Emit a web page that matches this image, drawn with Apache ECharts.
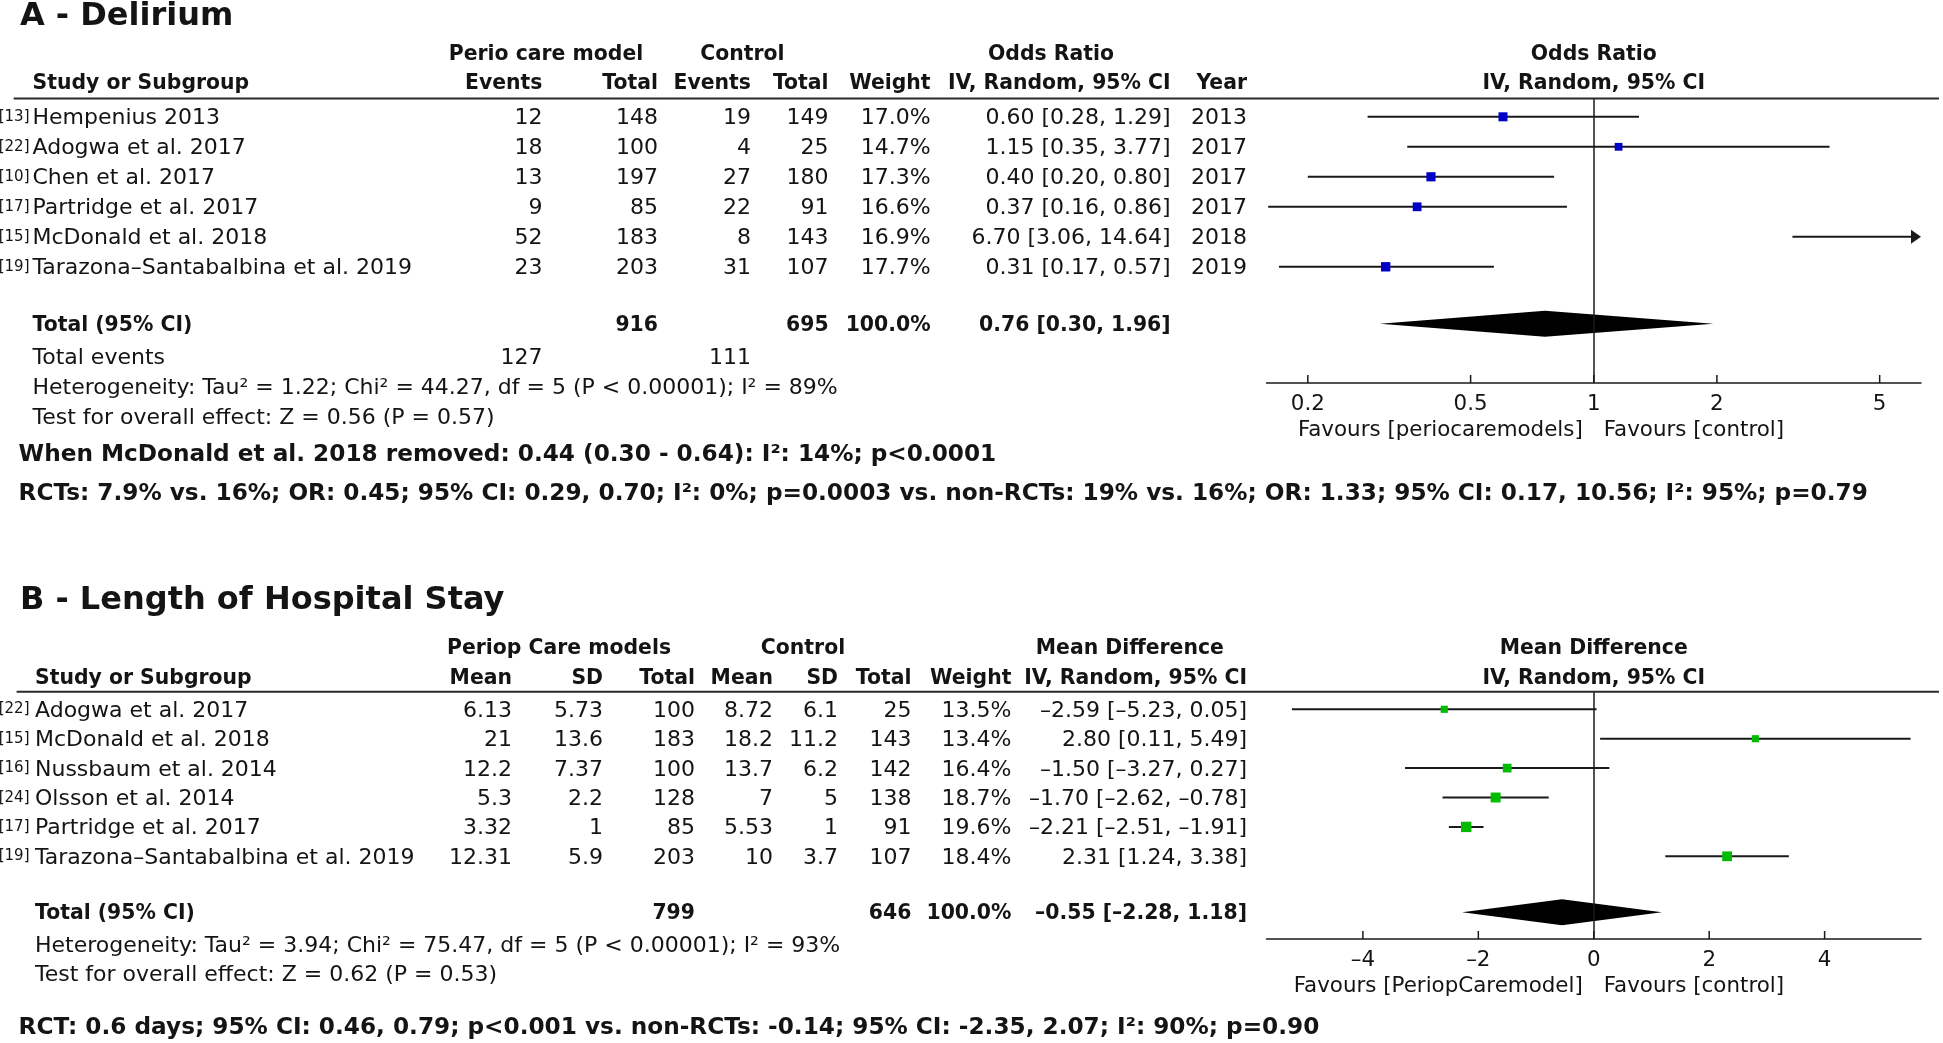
<!DOCTYPE html>
<html>
<head>
<meta charset="utf-8">
<script src="https://cdn.jsdelivr.net/npm/echarts@6/dist/echarts.min.js"></script>
<style>
html,body{margin:0;padding:0;background:#fff;overflow:hidden}
#chart{width:1943px;height:1043px}
</style>
</head>
<body>
<div id="chart"></div>
<script>
// ================= DATA : Panel A (Delirium, odds ratios) =================
const titleA = 'A - Delirium';
const refsA = ['[13]', '[22]', '[10]', '[17]', '[15]', '[19]'];
const studiesA = ['Hempenius 2013', 'Adogwa et al. 2017', 'Chen et al. 2017', 'Partridge et al. 2017', 'McDonald et al. 2018', 'Tarazona–Santabalbina et al. 2019'];
const expEventsA = [12, 18, 13, 9, 52, 23];
const expTotalA = [148, 100, 197, 85, 183, 203];
const ctlEventsA = [19, 4, 27, 22, 8, 31];
const ctlTotalA = [149, 25, 180, 91, 143, 107];
const weightA = [17.0, 14.7, 17.3, 16.6, 16.9, 17.7];
const orA = [0.60, 1.15, 0.40, 0.37, 6.70, 0.31];
const orLowA = [0.28, 0.35, 0.20, 0.16, 3.06, 0.17];
const orHighA = [1.29, 3.77, 0.80, 0.86, 14.64, 0.57];
const yearA = [2013, 2017, 2017, 2017, 2018, 2019];
const totalOrA = [0.76, 0.30, 1.96];          // estimate, low, high
const totalCountsA = [916, 695];              // exp total, ctl total
const totalEventsA = [127, 111];              // exp events, ctl events
const totalWeightA = 100.0;
const hetA = 'Heterogeneity: Tau² = 1.22; Chi² = 44.27, df = 5 (P < 0.00001); I² = 89%';
const testA = 'Test for overall effect: Z = 0.56 (P = 0.57)';
const ticksA = [0.2, 0.5, 1, 2, 5];
const favoursA = ['Favours [periocaremodels]', 'Favours [control]'];
const notesA = [
  'When McDonald et al. 2018 removed: 0.44 (0.30 - 0.64): I²: 14%; p<0.0001',
  'RCTs: 7.9% vs. 16%; OR: 0.45; 95% CI: 0.29, 0.70; I²: 0%; p=0.0003 vs. non-RCTs: 19% vs. 16%; OR: 1.33; 95% CI: 0.17, 10.56; I²: 95%; p=0.79'
];

// ================= DATA : Panel B (Length of stay, mean differences) =================
const titleB = 'B - Length of Hospital Stay';
const refsB = ['[22]', '[15]', '[16]', '[24]', '[17]', '[19]'];
const studiesB = ['Adogwa et al. 2017', 'McDonald et al. 2018', 'Nussbaum et al. 2014', 'Olsson et al. 2014', 'Partridge et al. 2017', 'Tarazona–Santabalbina et al. 2019'];
const expMeanB = ['6.13', '21', '12.2', '5.3', '3.32', '12.31'];
const expSdB = ['5.73', '13.6', '7.37', '2.2', '1', '5.9'];
const expTotalB = [100, 183, 100, 128, 85, 203];
const ctlMeanB = ['8.72', '18.2', '13.7', '7', '5.53', '10'];
const ctlSdB = ['6.1', '11.2', '6.2', '5', '1', '3.7'];
const ctlTotalB = [25, 143, 142, 138, 91, 107];
const weightB = [13.5, 13.4, 16.4, 18.7, 19.6, 18.4];
const mdB = [-2.59, 2.80, -1.50, -1.70, -2.21, 2.31];
const mdLowB = [-5.23, 0.11, -3.27, -2.62, -2.51, 1.24];
const mdHighB = [0.05, 5.49, 0.27, -0.78, -1.91, 3.38];
const totalMdB = [-0.55, -2.28, 1.18];
const totalCountsB = [799, 646];
const totalWeightB = 100.0;
const hetB = 'Heterogeneity: Tau² = 3.94; Chi² = 75.47, df = 5 (P < 0.00001); I² = 93%';
const testB = 'Test for overall effect: Z = 0.62 (P = 0.53)';
const ticksB = [-4, -2, 0, 2, 4];
const favoursB = ['Favours [PeriopCaremodel]', 'Favours [control]'];
const notesB = ['RCT: 0.6 days; 95% CI: 0.46, 0.79; p<0.001 vs. non-RCTs: -0.14; 95% CI: -2.35, 2.07; I²: 90%; p=0.90'];

// ================= STYLE / LAYOUT =================
const INK = '#141414';
const LINE_INK = '#1a1a1a';
const FAM = '"DejaVu Sans", sans-serif';
const fontN = '22px ' + FAM;
const fontAx = '21.4px ' + FAM;
const fontB = 'bold 20.4px ' + FAM;
const fontRef = '15px ' + FAM;
const fontTitle = 'bold 32px ' + FAM;
const fontNote = 'bold 23.2px ' + FAM;
const TEXT_DY = 1.7;
const TOTAL_ROW = 6.9;
const SQ = 0.53;          // square size per weight-percent
const DIAMOND_H = 13;
const TICK_LEN = 8;
const GRID_X = 1266.5, GRID_W = 654.5;
const FOREST_CX = GRID_X + GRID_W / 2;

const LA = { y0: 116.8, step: 30, top: 98.5, bottom: 383, hdr1: 54.5, hdr2: 83.5, titleY: 16.7,
  refX: 29.5, nameX: 32.5, lineX1: 13.7, lineX2: 1939,
  cols: [542.5, 658, 751, 828.6, 930.6, 1170.6, 1247],
  grpCenters: [546, 742.4, 1051], noteY: [455, 494] };
const LB = { y0: 709.3, step: 29.4, top: 691.7, bottom: 939, hdr1: 648.8, hdr2: 678.3, titleY: 600.5,
  refX: 29.5, nameX: 35, lineX1: 16.6, lineX2: 1939,
  cols: [512, 603, 695, 773, 838, 911.4, 1011.4, 1247],
  grpCenters: [559, 803, 1129.8], noteY: [1027.5] };

const OR_MIN = Math.pow(10, -0.8), OR_MAX = Math.pow(10, 0.8);
const MD_MIN = -5.67, MD_MAX = 5.67;

const rowY = (L, i) => L.y0 + L.step * i;
const f2 = v => v.toFixed(2).replace('-', '–');
const fmtCI = (e, l, h) => f2(e) + ' [' + f2(l) + ', ' + f2(h) + ']';

function T(x, y, text, font, align) {
  const a = align || 'left';
  return { type: 'text', x: x, y: y, silent: true, z: 10,
    style: { text: String(text), font: font, fill: INK, align: a, verticalAlign: 'middle',
             textAlign: a, textVerticalAlign: 'middle' } };
}
function HL(x1, x2, y) {
  return { type: 'line', silent: true, z: 10, shape: { x1: x1, y1: y, x2: x2, y2: y },
    style: { stroke: '#2a2a2a', lineWidth: 2 } };
}

const G = [];
// ---------- Panel A table ----------
G.push(T(19.9, LA.titleY, titleA, fontTitle));
G.push(T(LA.grpCenters[0], LA.hdr1, 'Perio care model', fontB, 'center'));
G.push(T(LA.grpCenters[1], LA.hdr1, 'Control', fontB, 'center'));
G.push(T(LA.grpCenters[2], LA.hdr1, 'Odds Ratio', fontB, 'center'));
G.push(T(FOREST_CX, LA.hdr1, 'Odds Ratio', fontB, 'center'));
G.push(T(LA.nameX, LA.hdr2, 'Study or Subgroup', fontB));
['Events', 'Total', 'Events', 'Total', 'Weight', 'IV, Random, 95% CI', 'Year'].forEach((h, k) =>
  G.push(T(LA.cols[k], LA.hdr2, h, fontB, 'right')));
G.push(T(FOREST_CX, LA.hdr2, 'IV, Random, 95% CI', fontB, 'center'));
G.push(HL(LA.lineX1, LA.lineX2, LA.top));
studiesA.forEach((s, i) => {
  const y = rowY(LA, i) + TEXT_DY;
  G.push(T(LA.refX, y - 1.5, refsA[i], fontRef, 'right'));
  G.push(T(LA.nameX, y, s, fontN));
  const vals = [expEventsA[i], expTotalA[i], ctlEventsA[i], ctlTotalA[i], weightA[i].toFixed(1) + '%',
                fmtCI(orA[i], orLowA[i], orHighA[i]), yearA[i]];
  vals.forEach((v, k) => G.push(T(LA.cols[k], y, v, fontN, 'right')));
});
{
  const y = rowY(LA, TOTAL_ROW) + TEXT_DY;
  G.push(T(LA.nameX, y, 'Total (95% CI)', fontB));
  G.push(T(LA.cols[1], y, totalCountsA[0], fontB, 'right'));
  G.push(T(LA.cols[3], y, totalCountsA[1], fontB, 'right'));
  G.push(T(LA.cols[4], y, totalWeightA.toFixed(1) + '%', fontB, 'right'));
  G.push(T(LA.cols[5], y, fmtCI(totalOrA[0], totalOrA[1], totalOrA[2]), fontB, 'right'));
  const y2 = rowY(LA, 8) + TEXT_DY;
  G.push(T(LA.nameX, y2, 'Total events', fontN));
  G.push(T(LA.cols[0], y2, totalEventsA[0], fontN, 'right'));
  G.push(T(LA.cols[2], y2, totalEventsA[1], fontN, 'right'));
  G.push(T(LA.nameX, rowY(LA, 9) + TEXT_DY, hetA, fontN));
  G.push(T(LA.nameX, rowY(LA, 10) + TEXT_DY, testA, fontN));
}
notesA.forEach((n, k) => G.push(T(18.6, LA.noteY[k], n, fontNote)));
G.push(T(FOREST_CX - 11, LA.bottom + 47, favoursA[0], fontAx, 'right'));
G.push(T(FOREST_CX + 10, LA.bottom + 47, favoursA[1], fontAx, 'left'));

// ---------- Panel B table ----------
G.push(T(19.9, LB.titleY, titleB, fontTitle));
G.push(T(LB.grpCenters[0], LB.hdr1, 'Periop Care models', fontB, 'center'));
G.push(T(LB.grpCenters[1], LB.hdr1, 'Control', fontB, 'center'));
G.push(T(LB.grpCenters[2], LB.hdr1, 'Mean Difference', fontB, 'center'));
G.push(T(FOREST_CX, LB.hdr1, 'Mean Difference', fontB, 'center'));
G.push(T(LB.nameX, LB.hdr2, 'Study or Subgroup', fontB));
['Mean', 'SD', 'Total', 'Mean', 'SD', 'Total', 'Weight', 'IV, Random, 95% CI'].forEach((h, k) =>
  G.push(T(LB.cols[k], LB.hdr2, h, fontB, 'right')));
G.push(T(FOREST_CX, LB.hdr2, 'IV, Random, 95% CI', fontB, 'center'));
G.push(HL(LB.lineX1, LB.lineX2, LB.top));
studiesB.forEach((s, i) => {
  const y = rowY(LB, i) + TEXT_DY;
  G.push(T(LB.refX, y - 1.5, refsB[i], fontRef, 'right'));
  G.push(T(LB.nameX, y, s, fontN));
  const vals = [expMeanB[i], expSdB[i], expTotalB[i], ctlMeanB[i], ctlSdB[i], ctlTotalB[i],
                weightB[i].toFixed(1) + '%', fmtCI(mdB[i], mdLowB[i], mdHighB[i])];
  vals.forEach((v, k) => G.push(T(LB.cols[k], y, v, fontN, 'right')));
});
{
  const y = rowY(LB, TOTAL_ROW) + TEXT_DY;
  G.push(T(LB.nameX, y, 'Total (95% CI)', fontB));
  G.push(T(LB.cols[2], y, totalCountsB[0], fontB, 'right'));
  G.push(T(LB.cols[5], y, totalCountsB[1], fontB, 'right'));
  G.push(T(LB.cols[6], y, totalWeightB.toFixed(1) + '%', fontB, 'right'));
  G.push(T(LB.cols[7], y, fmtCI(totalMdB[0], totalMdB[1], totalMdB[2]), fontB, 'right'));
  G.push(T(LB.nameX, rowY(LB, 8) + TEXT_DY, hetB, fontN));
  G.push(T(LB.nameX, rowY(LB, 9) + TEXT_DY, testB, fontN));
}
notesB.forEach((n, k) => G.push(T(18.6, LB.noteY[k], n, fontNote)));
G.push(T(FOREST_CX - 11, LB.bottom + 47, favoursB[0], fontAx, 'right'));
G.push(T(FOREST_CX + 10, LB.bottom + 47, favoursB[1], fontAx, 'left'));

// ================= FOREST SERIES =================
function ciRender(color) {
  return function (params, api) {
    const cs = params.coordSys;
    const xL = cs.x, xR = cs.x + cs.width;
    const row = api.value(3), w = api.value(4);
    const pe = api.coord([api.value(0), row]);
    const pl = api.coord([api.value(1), row]);
    const ph = api.coord([api.value(2), row]);
    const y = pe[1];
    const x1 = Math.max(pl[0], xL), x2 = Math.min(ph[0], xR);
    const clipR = ph[0] > xR + 0.5, clipL = pl[0] < xL - 0.5;
    const ch = [];
    ch.push({ type: 'line', shape: { x1: clipL ? x1 + 6 : x1, y1: y, x2: clipR ? x2 - 6 : x2, y2: y },
      style: { stroke: LINE_INK, lineWidth: 2 } });
    if (clipR) ch.push({ type: 'polygon', shape: { points: [[x2 - 10, y - 7], [x2, y], [x2 - 10, y + 7]] }, style: { fill: LINE_INK } });
    if (clipL) ch.push({ type: 'polygon', shape: { points: [[x1 + 10, y - 7], [x1, y], [x1 + 10, y + 7]] }, style: { fill: LINE_INK } });
    if (pe[0] >= xL && pe[0] <= xR) {
      const s = w * SQ;
      ch.push({ type: 'rect', shape: { x: pe[0] - s / 2, y: y - s / 2, width: s, height: s }, style: { fill: color } });
    }
    return { type: 'group', children: ch };
  };
}
function diamondRender(params, api) {
  const row = api.value(3);
  const e = api.coord([api.value(0), row]);
  const l = api.coord([api.value(1), row]);
  const h = api.coord([api.value(2), row]);
  return { type: 'polygon', shape: { points: [[l[0], l[1]], [e[0], e[1] - DIAMOND_H], [h[0], h[1]], [e[0], e[1] + DIAMOND_H]] },
    style: { fill: '#000' } };
}
function tickRender(fmt) {
  return function (params, api) {
    const cs = params.coordSys;
    const v = api.value(0);
    const x = api.coord([v, 0])[0];
    const yb = cs.y + cs.height;
    return { type: 'group', children: [
      { type: 'line', shape: { x1: x, y1: yb, x2: x, y2: yb - TICK_LEN }, style: { stroke: LINE_INK, lineWidth: 1.5 } },
      { type: 'text', x: x, y: yb + 21.5, style: { text: fmt(v), font: fontAx, fill: INK, align: 'center', verticalAlign: 'middle', textAlign: 'center', textVerticalAlign: 'middle' } }
    ] };
  };
}
const nullLine = (v) => ({ silent: true, symbol: ['none', 'none'], label: { show: false },
  lineStyle: { color: LINE_INK, width: 1.5, type: 'solid' }, data: [{ xAxis: v }], animation: false });

const ciDataA = orA.map((v, i) => [v, orLowA[i], orHighA[i], i, weightA[i]]);
const ciDataB = mdB.map((v, i) => [v, mdLowB[i], mdHighB[i], i, weightB[i]]);

const axisLineStyle = { show: true, onZero: false, lineStyle: { color: LINE_INK, width: 1.5 } };

const option = {
  animation: false,
  backgroundColor: '#ffffff',
  grid: [
    { left: GRID_X, width: GRID_W, top: LA.top, height: LA.bottom - LA.top, containLabel: false, outerBoundsMode: 'none' },
    { left: GRID_X, width: GRID_W, top: LB.top, height: LB.bottom - LB.top, containLabel: false, outerBoundsMode: 'none' }
  ],
  xAxis: [
    { gridIndex: 0, type: 'log', logBase: 10, min: OR_MIN, max: OR_MAX, axisLine: axisLineStyle,
      axisTick: { show: false }, axisLabel: { show: false }, splitLine: { show: false } },
    { gridIndex: 1, type: 'value', min: MD_MIN, max: MD_MAX, axisLine: axisLineStyle,
      axisTick: { show: false }, axisLabel: { show: false }, splitLine: { show: false } }
  ],
  yAxis: [
    { gridIndex: 0, type: 'value', inverse: true, show: false,
      min: (LA.top - LA.y0) / LA.step, max: (LA.bottom - LA.y0) / LA.step },
    { gridIndex: 1, type: 'value', inverse: true, show: false,
      min: (LB.top - LB.y0) / LB.step, max: (LB.bottom - LB.y0) / LB.step }
  ],
  series: [
    { type: 'custom', xAxisIndex: 0, yAxisIndex: 0, renderItem: diamondRender, encode: { x: [0, 1, 2], y: 3 },
      data: [[totalOrA[0], totalOrA[1], totalOrA[2], TOTAL_ROW]], markLine: nullLine(1), z: 2 },
    { type: 'custom', xAxisIndex: 0, yAxisIndex: 0, renderItem: ciRender('#0000c8'), encode: { x: [0, 1, 2], y: 3 },
      data: ciDataA, clip: false, z: 3 },
    { type: 'custom', xAxisIndex: 0, yAxisIndex: 0, renderItem: tickRender(v => String(v)), encode: { x: 0, y: 1 },
      data: ticksA.map(v => [v, 0]), clip: false, z: 3 },
    { type: 'custom', xAxisIndex: 1, yAxisIndex: 1, renderItem: diamondRender, encode: { x: [0, 1, 2], y: 3 },
      data: [[totalMdB[0], totalMdB[1], totalMdB[2], TOTAL_ROW]], markLine: nullLine(0), z: 2 },
    { type: 'custom', xAxisIndex: 1, yAxisIndex: 1, renderItem: ciRender('#00bb00'), encode: { x: [0, 1, 2], y: 3 },
      data: ciDataB, clip: false, z: 3 },
    { type: 'custom', xAxisIndex: 1, yAxisIndex: 1, renderItem: tickRender(v => v < 0 ? '–' + Math.abs(v) : String(v)), encode: { x: 0, y: 1 },
      data: ticksB.map(v => [v, 0]), clip: false, z: 3 }
  ],
  graphic: { elements: G }
};

const chart = echarts.init(document.getElementById('chart'), null, { renderer: 'canvas', width: 1943, height: 1043 });
chart.setOption(option);
</script>
</body>
</html>
